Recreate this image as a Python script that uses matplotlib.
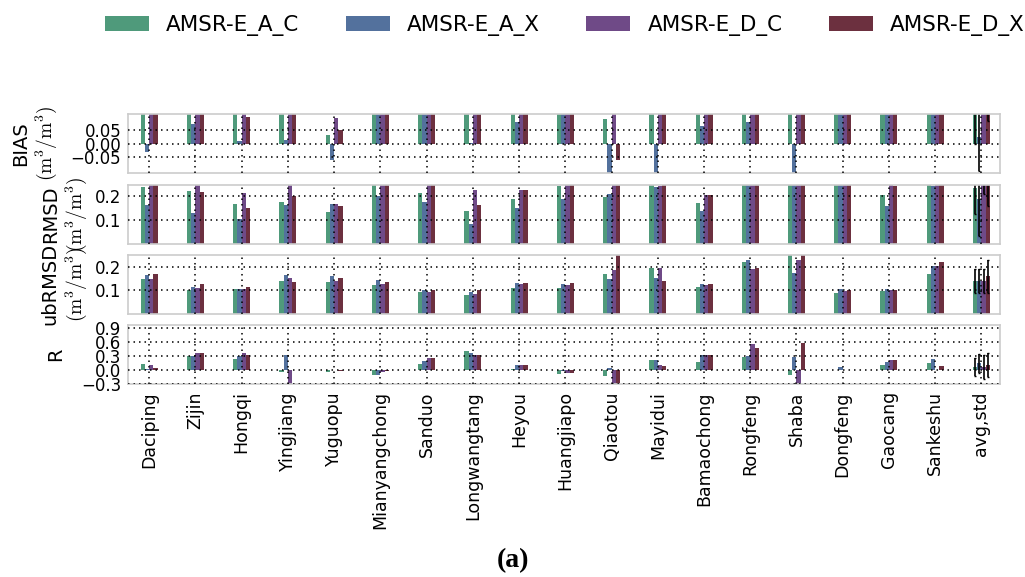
import numpy as np
import matplotlib
matplotlib.use("Agg")
import matplotlib.pyplot as plt

plt.rcParams["mathtext.fontset"] = "cm"
plt.rcParams["font.family"] = "DejaVu Sans"

# stations (last entry is the mean over all stations, with std as error bar)
stations = ["Daciping", "Zijin", "Hongqi", "Yingjiang", "Yuguopu", "Mianyangchong",
            "Sanduo", "Longwangtang", "Heyou", "Huangjiapo", "Qiaotou", "Mayidui",
            "Bamaochong", "Rongfeng", "Shaba", "Dongfeng", "Gaocang", "Sankeshu",
            "avg,std"]
series = ["AMSR-E_A_C", "AMSR-E_A_X", "AMSR-E_D_C", "AMSR-E_D_X"]
colors = ["#4f9a7b", "#53719d", "#6f4a87", "#6c303f"]

# BIAS (m3/m3)
bias_AC = [0.15, 0.13, 0.14, 0.16, 0.031, 0.20, 0.17, 0.14, 0.13, 0.18,
           0.093, 0.15, 0.14, 0.16, 0.12, 0.20, 0.15, 0.17, 0.15]
bias_AX = [-0.031, 0.072, 0.010, 0.015, -0.062, 0.12, 0.11, 0.003, 0.080, 0.12,
           -0.15, -0.14, 0.068, 0.080, -0.16, 0.15, 0.12, 0.13, 0.027]
bias_DC = [0.16, 0.15, 0.14, 0.17, 0.096, 0.20, 0.18, 0.15, 0.14, 0.19,
           0.13, 0.16, 0.15, 0.17, 0.14, 0.20, 0.17, 0.18, 0.16]
bias_DX = [0.14, 0.14, 0.101, 0.15, 0.052, 0.19, 0.17, 0.14, 0.13, 0.18,
           -0.059, 0.14, 0.14, 0.15, 0.13, 0.19, 0.16, 0.17, 0.15]
bias_std = [0.15, 0.13, 0.03, 0.066]

# RMSD (m3/m3)
rmsd_AC = [0.239, 0.224, 0.167, 0.176, 0.134, 0.30, 0.215, 0.137, 0.190, 0.242,
           0.197, 0.28, 0.170, 0.32, 0.40, 0.30, 0.205, 0.27, 0.235]
rmsd_AX = [0.164, 0.130, 0.104, 0.164, 0.167, 0.200, 0.175, 0.085, 0.152, 0.187,
           0.209, 0.239, 0.140, 0.30, 0.35, 0.28, 0.160, 0.242, 0.19]
rmsd_DC = [0.30, 0.27, 0.215, 0.26, 0.167, 0.30, 0.27, 0.227, 0.227, 0.27,
           0.30, 0.245, 0.205, 0.30, 0.40, 0.28, 0.27, 0.28, 0.27]
rmsd_DX = [0.28, 0.218, 0.152, 0.203, 0.160, 0.29, 0.26, 0.163, 0.227, 0.26,
           0.30, 0.28, 0.205, 0.30, 0.40, 0.28, 0.245, 0.28, 0.26]
rmsd_std = [0.11, 0.156, 0.06, 0.10]

# ubRMSD (m3/m3)
ubrmsd_AC = [0.148, 0.100, 0.107, 0.138, 0.134, 0.121, 0.093, 0.082, 0.111, 0.111,
             0.171, 0.193, 0.114, 0.221, 0.26, 0.089, 0.097, 0.171, 0.139]
ubrmsd_AX = [0.164, 0.116, 0.107, 0.164, 0.160, 0.144, 0.100, 0.092, 0.130, 0.127,
             0.148, 0.152, 0.127, 0.230, 0.175, 0.107, 0.107, 0.205, 0.14]
ubrmsd_DC = [0.148, 0.111, 0.107, 0.152, 0.141, 0.125, 0.093, 0.086, 0.125, 0.123,
             0.185, 0.193, 0.123, 0.189, 0.230, 0.096, 0.100, 0.205, 0.14]
ubrmsd_DX = [0.168, 0.127, 0.114, 0.134, 0.152, 0.134, 0.100, 0.100, 0.131, 0.131,
             0.27, 0.141, 0.127, 0.193, 0.26, 0.100, 0.103, 0.219, 0.16]
ubrmsd_std = [0.05, 0.05, 0.05, 0.07]

# R
r_AC = [0.125, 0.31, 0.236, -0.03, -0.04, -0.10, 0.125, 0.40, 0.02, -0.09,
        -0.13, 0.22, 0.18, 0.29, -0.11, 0.005, 0.12, 0.15, 0.07]
r_AX = [0.02, 0.31, 0.31, 0.33, 0.0, -0.11, 0.206, 0.375, 0.11, -0.015,
        0.04, 0.22, 0.33, 0.31, 0.29, 0.06, 0.18, 0.236, 0.15]
r_DC = [0.12, 0.36, 0.375, -0.35, 0.0, -0.04, 0.265, 0.324, 0.11, -0.06,
        -0.32, 0.12, 0.33, 0.55, -0.33, 0.015, 0.21, 0.015, 0.07]
r_DX = [0.05, 0.36, 0.33, 0.005, -0.01, -0.02, 0.25, 0.324, 0.11, -0.06,
        -0.32, 0.09, 0.33, 0.48, 0.57, 0.015, 0.22, 0.09, 0.11]
r_std = [0.2, 0.2, 0.25, 0.25]

unit = "\n" + r"$(\mathrm{m^3/m^3})$"
panels = [
    ("BIAS" + unit, [bias_AC, bias_AX, bias_DC, bias_DX], bias_std,
     (-0.11, 0.11), [-0.05, 0.0, 0.05], -0.079),
    ("RMSD" + unit, [rmsd_AC, rmsd_AX, rmsd_DC, rmsd_DX], rmsd_std,
     (0, 0.25), [0.1, 0.2], -0.045),
    ("ubRMSD" + unit, [ubrmsd_AC, ubrmsd_AX, ubrmsd_DC, ubrmsd_DX], ubrmsd_std,
     (0, 0.25), [0.1, 0.2], -0.045),
    ("R", [r_AC, r_AX, r_DC, r_DX], r_std,
     (-0.3, 0.96), [-0.3, 0.0, 0.3, 0.6, 0.9], -0.072),
]

x = np.arange(len(stations))
width = 0.092
offsets = (np.arange(4) - 1.5) * width

fig, axes = plt.subplots(4, 1, figsize=(10.25, 5.77), dpi=100, sharex=True)
fig.subplots_adjust(left=0.125, right=0.976, top=0.802, bottom=0.334, hspace=0.19)

handles = []
for ax, (label, vals, std, ylim, ticks, labx) in zip(axes, panels):
    for i in range(4):
        b = ax.bar(x + offsets[i], vals[i], width, color=colors[i], edgecolor="none")
        if ax is axes[0]:
            handles.append(b)
        ax.errorbar(x[-1] + offsets[i], vals[i][-1], yerr=std[i], fmt="none",
                    ecolor="k", elinewidth=1.2, capsize=1)
    ax.set_ylim(*ylim)
    ax.set_yticks(ticks)
    ax.set_xlim(-0.455, 18.41)
    ax.set_axisbelow(False)
    ax.grid(True, color="k", linestyle=(0, (1, 2.6)), linewidth=1.1)
    ax.tick_params(length=0, labelsize=12, pad=5)
    for s in ax.spines.values():
        s.set_color("#cccccc")
        s.set_linewidth(1.2)
    ax.set_ylabel(label, fontsize=14)
    ax.yaxis.set_label_coords(labx, 0.5)

axes[-1].set_xticks(x)
axes[-1].set_xticklabels(stations, rotation=90, fontsize=12.5)

fig.legend(handles, series, loc="center", bbox_to_anchor=(0.551, 0.956), ncol=4,
           frameon=False, fontsize=15.5, handlelength=2.05, handleheight=0.7,
           handletextpad=0.8, columnspacing=2.15)

fig.text(0.5, 0.028, "(a)", ha="center", va="center", fontsize=20,
         fontweight="bold", family="Liberation Serif")

fig.savefig("out.png", dpi=100)
